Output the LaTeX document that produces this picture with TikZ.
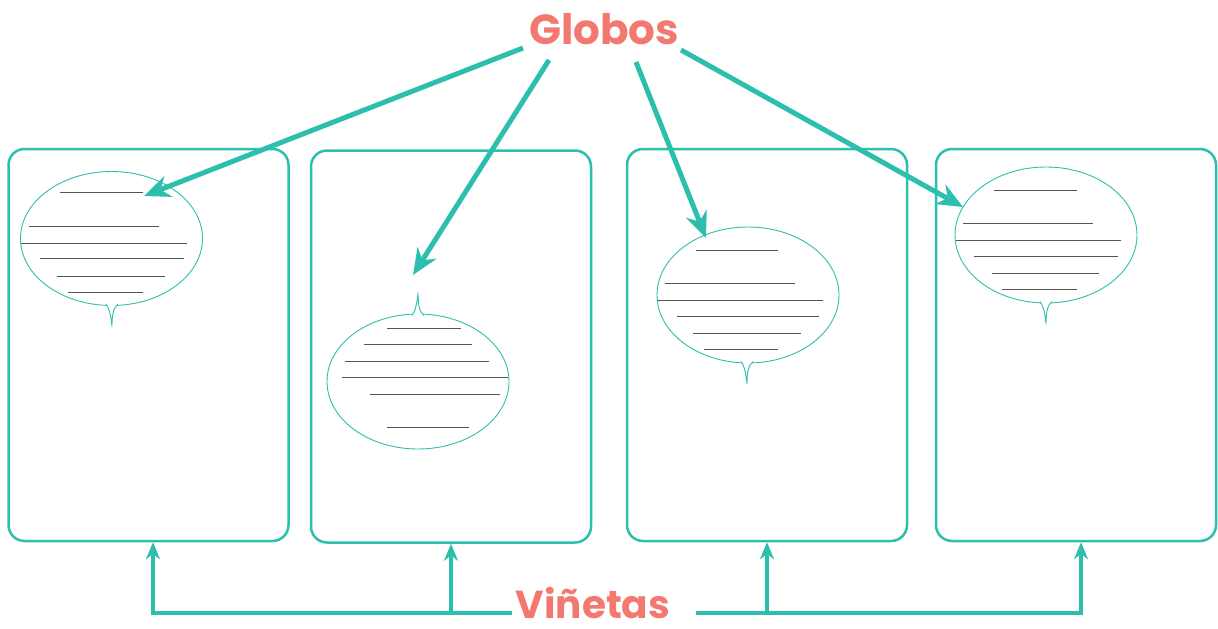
\documentclass[tikz,border=0pt]{standalone}
\usepackage{fontspec}
\setmainfont{Poppins}
\usetikzlibrary{arrows.meta}
\definecolor{turquesa}{RGB}{44,191,173}
\definecolor{salmon}{RGB}{243,121,112}
\definecolor{lapiz}{RGB}{85,85,85}

% cola del globo: base en (0,0), punta hacia abajo
\newcommand{\colita}[3]{%
  \begin{scope}[shift={(#1,#2)}, yscale=#3]
    \filldraw[globo, fill=white] (-6,-1.5) .. controls (-3,2) and (-1,10) .. (0,21)
      .. controls (0,11) and (1,2) .. (6,-1.5);
  \end{scope}}

\begin{document}
\begin{tikzpicture}[x=1pt, y=-1pt,
    vineta/.style={draw=turquesa, line width=2.5pt, rounded corners=16pt, minimum width=280pt, minimum height=392pt, inner sep=0pt},
    globo/.style={draw=turquesa, line width=0.9pt},
    renglon/.style={draw=lapiz, line width=0.9pt},
    flecha/.style={turquesa, line width=5pt, -{Stealth[length=26pt, width=22pt]}},
    flechita/.style={turquesa, line width=4.5pt, -{Stealth[length=17pt, width=14pt]}},
    titulo/.style={text=salmon, font=\bfseries\fontsize{42}{42}\selectfont, inner sep=0pt}]
  \useasboundingbox (0,0) rectangle (1218,629);

  % viñetas
  \node[vineta] (v1) at (148.5,345) {};
  \node[vineta] (v2) at (451,346.5) {};
  \node[vineta] (v3) at (767,345) {};
  \node[vineta] (v4) at (1076,345) {};

  % globos de texto
  \draw[globo] (111.5,238.5) ellipse [x radius=91, y radius=67];
  \colita{112}{305.5}{1}
  \foreach \xa/\xb/\y in {60/143/192, 29/159/226, 21/187/243, 40/184/258, 57/165/276, 68/143/292}
    \draw[renglon] (\xa,\y) -- (\xb,\y);

  \draw[globo] (418,381.5) ellipse [x radius=91, y radius=67.5];
  \colita{418}{314}{-1}
  \foreach \xa/\xb/\y in {387/461/328, 364/472/344, 345/489/361, 342/508/377, 370/500/394, 387/469/427}
    \draw[renglon] (\xa,\y) -- (\xb,\y);

  \draw[globo] (748,295) ellipse [x radius=91, y radius=68];
  \colita{747}{363}{1}
  \foreach \xa/\xb/\y in {696/778/250, 665/795/283, 657/823/300, 677/819/316, 693/801/333, 704/778/349}
    \draw[renglon] (\xa,\y) -- (\xb,\y);

  \draw[globo] (1046,235) ellipse [x radius=91, y radius=68];
  \colita{1046}{303}{1}
  \foreach \xa/\xb/\y in {994/1077/190, 963/1093/223, 956/1121/240, 974/1118/256, 992/1099/273, 1002/1077/289}
    \draw[renglon] (\xa,\y) -- (\xb,\y);

  % titulos
  \node[titulo] (globos) at (604,29) {Globos};
  \node[titulo, font=\bfseries\fontsize{39}{39}\selectfont] (vinetas) at (593,603) {Viñetas};

  % flechas de arriba
  \coordinate (s1) at (523,48);
  \coordinate (s2) at (549,60);
  \coordinate (s3) at (636,62);
  \coordinate (s4) at (681,50);
  \coordinate (t1) at (144,196);
  \coordinate (t2) at (413,275);
  \coordinate (t3) at (706,238);
  \coordinate (t4) at (963,207);
  \foreach \i in {1,...,4}
    \draw[flecha] (s\i) -- (t\i);

  % flechas de abajo
  \draw[flechita] ([xshift=-4pt, yshift=-10pt]vinetas.west) -| ([xshift=4.5pt]v1.south);
  \draw[flechita] ([yshift=-10pt]vinetas.west -| v2.south) -- (v2.south);
  \draw[flechita] ([xshift=26pt, yshift=-10pt]vinetas.east) -| ([xshift=5pt]v4.south);
  \draw[flechita] ([yshift=-10pt]vinetas.east -| v3.south) -- (v3.south);
\end{tikzpicture}
\end{document}
